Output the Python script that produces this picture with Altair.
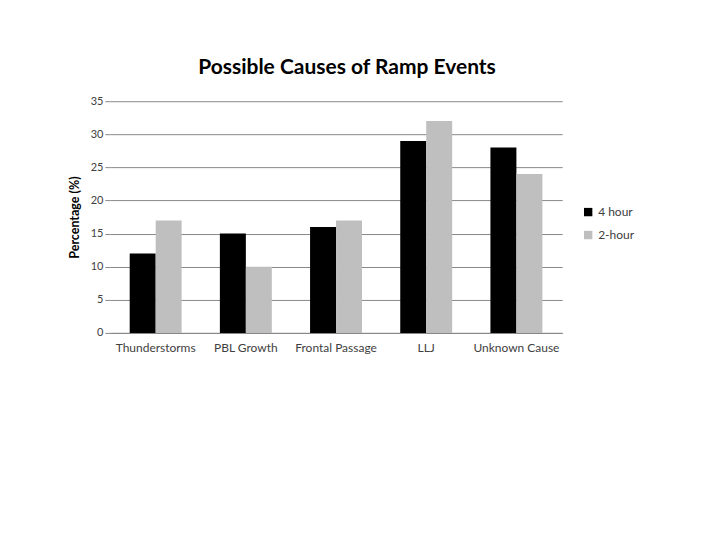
import altair as alt
import pandas as pd

categories = ["Thunderstorms", "PBL Growth", "Frontal Passage", "LLJ", "Unknown Cause"]
four_hour = [12, 15, 16, 29, 28]
two_hour = [17, 10, 17, 32, 24]
series = ["4 hour", "2-hour"]

rows = []
for c, a, b in zip(categories, four_hour, two_hour):
    rows.append({"cause": c, "series": series[0], "value": a})
    rows.append({"cause": c, "series": series[1], "value": b})
df = pd.DataFrame(rows)

font = "Lato"
chart = alt.Chart(df).mark_bar().encode(
    x=alt.X("cause:N", sort=categories, title=None,
            scale=alt.Scale(paddingInner=0.424, paddingOuter=0.22),
            axis=alt.Axis(labelAngle=0, labelFont=font, labelFontSize=12, labelColor="#404040",
                          domainColor="#888888", ticks=False, labelPadding=10)),
    xOffset=alt.XOffset("series:N", sort=series),
    y=alt.Y("value:Q", title="Percentage (%)",
            scale=alt.Scale(domain=[0, 35]),
            axis=alt.Axis(values=[0, 5, 10, 15, 20, 25, 30, 35], labelFont=font, labelFontSize=11,
                          labelColor="#404040", gridColor="#888888", domain=False,
                          tickColor="#888888", tickSize=5, titleFont=font, titleFontSize=12.5,
                          titleFontWeight="bold", titleColor="#000000", titlePadding=9)),
    color=alt.Color("series:N", sort=series,
                    scale=alt.Scale(domain=series, range=["#000000", "#bfbfbf"]),
                    legend=alt.Legend(title=None, orient="none", legendX=473, legendY=105,
                                      symbolType="square", symbolSize=70, labelFont=font,
                                      labelFontSize=12, labelColor="#404040", rowPadding=11,
                                      symbolStrokeWidth=0)),
).properties(
    width=453, height=232,
    title=alt.TitleParams("Possible Causes of Ramp Events", font=font, fontSize=21,
                          fontWeight="bold", color="#000000", dx=11, offset=17),
    autosize=alt.AutoSizeParams(type="none"),
    padding={"left": 102, "top": 93, "right": 150, "bottom": 190},
).configure_view(stroke=None)

chart.save("out.html", embed_options={"renderer": "svg", "actions": False})
